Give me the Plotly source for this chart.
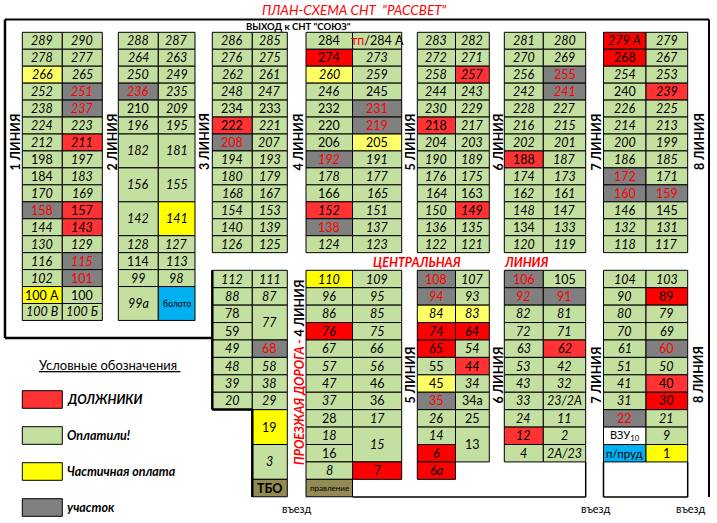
import plotly.graph_objects as go

# статусы: G оплатили, R/r должники, Y/y частичная оплата, S участок,
# B вода/болото, W пусто, T хоз. постройки
line1_a = [("289", "G", 1), ("278", "G", 1), ("266", "y", 1), ("252", "G", 1), ("238", "G", 1),
           ("224", "G", 1), ("212", "G", 1), ("198", "G", 1), ("184", "G", 1), ("170", "G", 1),
           ("158", "S", 1), ("144", "G", 1), ("130", "G", 1), ("116", "G", 1), ("102", "G", 1),
           ("100 А", "Y", 1), ("100 В", "G", 1)]
line1_b = [("290", "G", 1), ("277", "G", 1), ("265", "G", 1), ("251", "S", 1), ("237", "S", 1),
           ("223", "G", 1), ("211", "r", 1), ("197", "G", 1), ("183", "G", 1), ("169", "G", 1),
           ("157", "r", 1), ("143", "r", 1), ("129", "G", 1), ("115", "S", 1), ("101", "S", 1),
           ("100", "G", 1), ("100 Б", "G", 1)]
line2_a = [("288", "G", 1), ("264", "G", 1), ("250", "G", 1), ("236", "S", 1), ("210", "G", 1),
           ("196", "G", 1), ("182", "G", 2), ("156", "G", 2), ("142", "G", 2), ("128", "G", 1),
           ("114", "G", 1), ("99", "G", 1), ("99а", "G", 2)]
line2_b = [("287", "G", 1), ("263", "G", 1), ("249", "G", 1), ("235", "G", 1), ("209", "G", 1),
           ("195", "G", 1), ("181", "G", 2), ("155", "G", 2), ("141", "Y", 2), ("127", "G", 1),
           ("113", "G", 1), ("98", "G", 1), ("болото", "B", 2)]
line3_a = [("286", "G", 1), ("276", "G", 1), ("262", "G", 1), ("248", "G", 1), ("234", "G", 1),
           ("222", "r", 1), ("208", "S", 1), ("194", "G", 1), ("180", "G", 1), ("168", "G", 1),
           ("154", "G", 1), ("140", "G", 1), ("126", "G", 1)]
line3_b = [("285", "G", 1), ("275", "G", 1), ("261", "G", 1), ("247", "G", 1), ("233", "G", 1),
           ("221", "G", 1), ("207", "G", 1), ("193", "G", 1), ("179", "G", 1), ("167", "G", 1),
           ("153", "G", 1), ("139", "G", 1), ("125", "G", 1)]
line4_a = [("284", "G", 1), ("274", "R", 1), ("260", "y", 1), ("246", "G", 1), ("232", "G", 1),
           ("220", "G", 1), ("206", "G", 1), ("192", "S", 1), ("178", "G", 1), ("166", "G", 1),
           ("152", "r", 1), ("138", "S", 1), ("124", "G", 1)]
line4_b = [("тп/284 А", "G", 1), ("273", "G", 1), ("259", "G", 1), ("245", "G", 1), ("231", "S", 1),
           ("219", "S", 1), ("205", "y", 1), ("191", "G", 1), ("177", "G", 1), ("165", "G", 1),
           ("151", "G", 1), ("137", "G", 1), ("123", "G", 1)]
line5_a = [("283", "G", 1), ("272", "G", 1), ("258", "G", 1), ("244", "G", 1), ("230", "G", 1),
           ("218", "r", 1), ("204", "G", 1), ("190", "G", 1), ("176", "G", 1), ("164", "G", 1),
           ("150", "G", 1), ("136", "G", 1), ("122", "G", 1)]
line5_b = [("282", "G", 1), ("271", "G", 1), ("257", "r", 1), ("243", "G", 1), ("229", "G", 1),
           ("217", "G", 1), ("203", "G", 1), ("189", "G", 1), ("175", "G", 1), ("163", "G", 1),
           ("149", "r", 1), ("135", "G", 1), ("121", "G", 1)]
line6_a = [("281", "G", 1), ("270", "G", 1), ("256", "G", 1), ("242", "G", 1), ("228", "G", 1),
           ("216", "G", 1), ("202", "G", 1), ("188", "r", 1), ("174", "G", 1), ("162", "G", 1),
           ("148", "G", 1), ("134", "G", 1), ("120", "G", 1)]
line6_b = [("280", "G", 1), ("269", "G", 1), ("255", "S", 1), ("241", "S", 1), ("227", "G", 1),
           ("215", "G", 1), ("201", "G", 1), ("187", "G", 1), ("173", "G", 1), ("161", "G", 1),
           ("147", "G", 1), ("133", "G", 1), ("119", "G", 1)]
line7_a = [("279 А", "R", 1), ("268", "R", 1), ("254", "G", 1), ("240", "G", 1), ("226", "G", 1),
           ("214", "G", 1), ("200", "G", 1), ("186", "G", 1), ("172", "S", 1), ("160", "S", 1),
           ("146", "G", 1), ("132", "G", 1), ("118", "G", 1)]
line7_b = [("279", "G", 1), ("267", "G", 1), ("253", "G", 1), ("239", "r", 1), ("225", "G", 1),
           ("213", "G", 1), ("199", "G", 1), ("185", "G", 1), ("171", "G", 1), ("159", "S", 1),
           ("145", "G", 1), ("131", "G", 1), ("117", "G", 1)]

# нижняя часть
low3_a = [("112", "G", 1), ("88", "G", 1), ("78", "G", 1), ("59", "G", 1), ("49", "G", 1),
          ("48", "G", 1), ("39", "G", 1), ("20", "G", 1)]
low3_b = [("111", "G", 1), ("87", "G", 1), ("77", "G", 2), ("68", "S", 1), ("58", "G", 1),
          ("38", "G", 1), ("29", "G", 1), ("19", "Y", 2), ("3", "G", 2), ("ТБО", "T", 1)]
low4_a = [("110", "Y", 1), ("96", "G", 1), ("86", "G", 1), ("76", "R", 1), ("67", "G", 1),
          ("57", "G", 1), ("47", "G", 1), ("37", "G", 1), ("28", "G", 1), ("18", "G", 1),
          ("16", "G", 1), ("8", "G", 1), ("правление", "T", 1)]
low4_b = [("109", "G", 1), ("95", "G", 1), ("85", "G", 1), ("75", "G", 1), ("66", "G", 1),
          ("56", "G", 1), ("46", "G", 1), ("36", "G", 1), ("17", "G", 1), ("15", "G", 2),
          ("7", "R", 1)]
low5_a = [("108", "S", 1), ("94", "S", 1), ("84", "y", 1), ("74", "R", 1), ("65", "R", 1),
          ("55", "G", 1), ("45", "y", 1), ("35", "S", 1), ("26", "G", 1), ("14", "G", 1),
          ("6", "R", 1), ("6а", "R", 1)]
low5_b = [("107", "G", 1), ("93", "G", 1), ("83", "y", 1), ("64", "R", 1), ("54", "G", 1),
          ("44", "r", 1), ("34", "G", 1), ("34а", "G", 1), ("25", "G", 1), ("13", "G", 2)]
low6_a = [("106", "S", 1), ("92", "S", 1), ("82", "G", 1), ("72", "G", 1), ("63", "G", 1),
          ("53", "G", 1), ("43", "G", 1), ("33", "G", 1), ("24", "G", 1), ("12", "r", 1),
          ("4", "G", 1)]
low6_b = [("105", "G", 1), ("91", "S", 1), ("81", "G", 1), ("71", "G", 1), ("62", "r", 1),
          ("42", "G", 1), ("32", "G", 1), ("23/2А", "G", 1), ("11", "G", 1), ("2", "G", 1),
          ("2А/23", "G", 1)]
low7_a = [("104", "G", 1), ("90", "G", 1), ("80", "G", 1), ("70", "G", 1), ("61", "G", 1),
          ("51", "G", 1), ("41", "G", 1), ("31", "G", 1), ("22", "S", 1), ("ВЗУ10", "W", 1),
          ("п/пруд", "B", 1)]
low7_b = [("103", "G", 1), ("89", "R", 1), ("79", "G", 1), ("69", "G", 1), ("60", "S", 1),
          ("50", "G", 1), ("40", "r", 1), ("30", "R", 1), ("21", "G", 1), ("9", "G", 1),
          ("1", "Y", 1)]

legend_labels = ["ДОЛЖНИКИ", "Оплатили!", "Частичная оплата", "участок"]
legend_status = ["r", "G", "Y", "S"]

# номера, написанные прямым шрифтом
upright = {"198", "184", "158", "157", "101", "100 А", "100", "210", "114", "болото", "234",
           "233", "222", "208", "284", "тп/284 А", "274", "245", "232", "231", "220", "219",
           "206", "205", "166", "138", "218", "163", "255", "188", "134", "268", "240", "172",
           "160", "159", "145", "78", "59", "68", "19", "ТБО", "46", "36", "28", "16", "7",
           "правление", "108", "55", "45", "35", "34а", "25", "13", "106", "105", "91", "89",
           "60", "40", "22", "ВЗУ10", "п/пруд", "1"}

colors = {"G": "#C4E0A0", "R": "#FF0000", "r": "#FF3333", "Y": "#FFFF00", "y": "#FFFF66",
          "S": "#808080", "B": "#00B0F0", "W": "#FFFFFF", "T": "#948A54"}

FONT = "Lato"
TOP_Y, TOP_H = 32.3, 16.95
BOT_Y, BOT_H = 270.3, 17.42

fig = go.Figure()
shapes = []
annotations = []


def label_html(lab):
    if lab == "тп/284 А":
        return "<span style='color:#FF0000'>тп</span>/284 А"
    if lab == "ВЗУ10":
        return "ВЗУ<sub>10</sub>"
    if lab in upright:
        return lab
    return "<i>" + lab + "</i>"


def draw_column(col, x0, x1, y0, h):
    row = 0
    for lab, st, span in col:
        ya = y0 + row * h
        yb = y0 + (row + span) * h
        shapes.append(dict(type="rect", x0=x0, x1=x1, y0=ya, y1=yb, xref="x", yref="y",
                           fillcolor=colors[st], line=dict(color="black", width=1), layer="below"))
        size = 12.5
        if lab == "болото":
            size = 8.5
        if lab == "правление":
            size = 8
        if lab == "ВЗУ10":
            size = 11
        if lab == "п/пруд":
            size = 11.5
        txt = label_html(lab)
        if lab == "ТБО":
            txt = "<b>" + txt + "</b>"
        annotations.append(dict(x=(x0 + x1) / 2, y=(ya + yb) / 2, text=txt, showarrow=False,
                                xref="x", yref="y",
                                font=dict(family=FONT, size=size,
                                          color="#FF0000" if st == "S" else "black")))
        row += span


top_blocks = [
    (line1_a, line1_b, 22.3, 62.3, 102.3),
    (line2_a, line2_b, 118.3, 158.3, 195.0),
    (line3_a, line3_b, 212.3, 252.3, 287.3),
    (line4_a, line4_b, 306.0, 352.5, 401.7),
    (line5_a, line5_b, 417.3, 455.5, 489.3),
    (line6_a, line6_b, 504.3, 543.3, 585.7),
    (line7_a, line7_b, 603.5, 646.0, 687.7),
]
bot_blocks = [
    (low3_a, low3_b, 212.3, 252.3, 287.3),
    (low4_a, low4_b, 306.0, 352.5, 401.7),
    (low5_a, low5_b, 417.3, 455.5, 489.3),
    (low6_a, low6_b, 504.3, 543.3, 585.7),
    (low7_a, low7_b, 603.5, 646.0, 687.7),
]
for a, b, xa, xm, xb in top_blocks:
    draw_column(a, xa, xm, TOP_Y, TOP_H)
    draw_column(b, xm, xb, TOP_Y, TOP_H)
for a, b, xa, xm, xb in bot_blocks:
    draw_column(a, xa, xm, BOT_Y, BOT_H)
    draw_column(b, xm, xb, BOT_Y, BOT_H)

# контур участка
frame = [
    (5, 19.5, 709, 19.5, 2), (5, 19.5, 5, 338, 2.5), (5, 338, 212.3, 338, 2.5),
    (212.3, 270.3, 212.3, 409.5, 2.5), (212.3, 409.5, 252.3, 409.5, 2.5),
    (252.3, 409.5, 252.3, 497, 2.5), (352.5, 497, 585.7, 497, 1.5),
    (585.7, 462, 585.7, 497, 1.5), (603.5, 462, 603.5, 497, 1.5),
    (603.5, 497, 687.7, 497, 1.5), (687.7, 462, 687.7, 497, 1.5),
    (709, 19.5, 709, 497, 2),
]
for x0, y0, x1, y1, w in frame:
    shapes.append(dict(type="line", x0=x0, y0=y0, x1=x1, y1=y1, xref="x", yref="y",
                       line=dict(color="black", width=w)))

# подписи линий
line_names = [(14.5, 142, "1 ЛИНИЯ"), (111.5, 142, "2 ЛИНИЯ"), (204, 142, "3 ЛИНИЯ"),
              (297.5, 142, "4 ЛИНИЯ"), (409.5, 142, "5 ЛИНИЯ"), (497.5, 142, "6 ЛИНИЯ"),
              (595.5, 142, "7 ЛИНИЯ"), (699, 142, "8 ЛИНИЯ"),
              (409.5, 375, "5 ЛИНИЯ"), (497.5, 375, "6 ЛИНИЯ"), (595.5, 375, "7 ЛИНИЯ"),
              (698, 375, "8 ЛИНИЯ")]
for x, y, t in line_names:
    annotations.append(dict(x=x, y=y, text="<b>" + t + "</b>", textangle=-90, showarrow=False,
                            xref="x", yref="y", font=dict(family=FONT, size=12.5, color="black")))

annotations.append(dict(x=299, y=373, textangle=-90, showarrow=False, xref="x", yref="y",
                        text="<b><i><span style='color:#FF0000'>ПРОЕЗЖАЯ ДОРОГА - </span></i>"
                             "4 ЛИНИЯ</b>",
                        font=dict(family=FONT, size=12.5, color="black")))

annotations.append(dict(x=354, y=10, showarrow=False, xref="x", yref="y",
                        text="<i>ПЛАН-СХЕМА СНТ  \"РАССВЕТ\"</i>",
                        font=dict(family=FONT, size=13.5, color="#FF0000")))
annotations.append(dict(x=298, y=26, showarrow=False, xref="x", yref="y",
                        text="<b>ВЫХОД к СНТ \"СОЮЗ\"</b>",
                        font=dict(family=FONT, size=9.5, color="black")))
annotations.append(dict(x=417, y=262, showarrow=False, xref="x", yref="y",
                        text="<b><i>ЦЕНТРАЛЬНАЯ</i></b>",
                        font=dict(family=FONT, size=12.5, color="#FF0000")))
annotations.append(dict(x=526, y=262, showarrow=False, xref="x", yref="y",
                        text="<b><i>ЛИНИЯ</i></b>",
                        font=dict(family=FONT, size=12.5, color="#FF0000")))
for x in (297, 596, 691):
    annotations.append(dict(x=x, y=508, showarrow=False, xref="x", yref="y", text="въезд",
                            font=dict(family=FONT, size=11, color="black")))

# условные обозначения
annotations.append(dict(x=109, y=365, showarrow=False, xref="x", yref="y",
                        text="<u>Условные обозначения </u>",
                        font=dict(family=FONT, size=13, color="black")))
for i, (lab, st) in enumerate(zip(legend_labels, legend_status)):
    yc = 399.5 + i * 36
    shapes.append(dict(type="rect", x0=22.3, x1=62.3, y0=yc - 8.8, y1=yc + 8.8, xref="x",
                       yref="y", fillcolor=colors[st], line=dict(color="black", width=1)))
    annotations.append(dict(x=64.5, y=yc, xanchor="left", showarrow=False, xref="x", yref="y",
                            text="<b><i>" + lab + "</i></b>",
                            font=dict(family=FONT, size=12.5, color="black")))

fig.update_layout(
    width=717, height=523, margin=dict(l=0, r=0, t=0, b=0),
    paper_bgcolor="white", plot_bgcolor="white", showlegend=False,
    xaxis=dict(range=[0, 717], visible=False, fixedrange=True),
    yaxis=dict(range=[523, 0], visible=False, fixedrange=True),
    shapes=shapes, annotations=annotations,
)
# убрать поля страницы, чтобы рисунок стоял ровно в окне
fig.write_html("out.html", config={"displayModeBar": False},
               post_script="document.body.style.margin='0px';")
